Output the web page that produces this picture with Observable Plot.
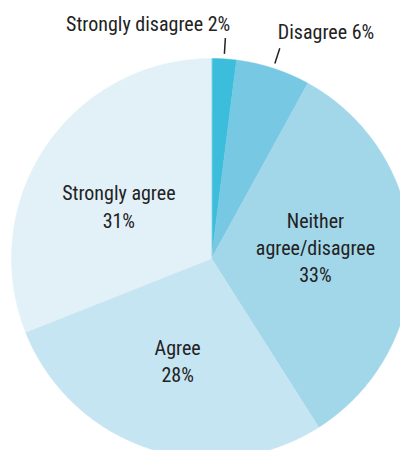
<!DOCTYPE html>
<html><head><meta charset="utf-8">
<script src="https://cdn.jsdelivr.net/npm/d3@7"></script>
<script src="https://cdn.jsdelivr.net/npm/@observablehq/plot@0.6"></script>
<style>body{margin:0;background:#fff;overflow:hidden}</style>
</head><body><div id="chart"></div>
<script>
// ---- data ----
const categories = ["Strongly disagree", "Disagree", "Neither agree/disagree", "Agree", "Strongly agree"];
const values = [2, 6, 33, 28, 31];
const labelTexts = ["Strongly disagree 2%", "Disagree 6%", "Neither\nagree/disagree\n33%", "Agree\n28%", "Strongly agree\n31%"];
const colors = ["#3bbddb", "#77c8e3", "#a2d7ea", "#c6e5f2", "#e2f1f8"];

// ---- layout ----
const W = 400, H = 450, cx = 211, cy = 258, R = 200;
const outside = [true, true, false, false, false];
const labelRadius = [1.17, 1.17, 0.51, 0.548, 0.53];
const labelNudge = [[4, 0], [-6, -3], [2, -9], [0, -3], [-5, 6.5]]; // px
const FONT = "'Liberation Sans Narrow', 'Arial Narrow', 'Roboto Condensed', Roboto, sans-serif";

const arcs = d3.pie().sort(null).value(d => d)(values);

const slicePts = [];
arcs.forEach((a, i) => {
  const n = Math.max(4, Math.ceil((a.endAngle - a.startAngle) / 0.005));
  slicePts.push({cat: categories[i], x: 0, y: 0});
  for (let k = 0; k <= n; k++) {
    const t = a.startAngle + (a.endAngle - a.startAngle) * k / n;
    slicePts.push({cat: categories[i], x: Math.sin(t), y: Math.cos(t)});
  }
});

const labels = arcs.map((a, i) => {
  const m = (a.startAngle + a.endAngle) / 2, r = labelRadius[i];
  return {
    text: labelTexts[i],
    x: r * Math.sin(m) + labelNudge[i][0] / R,
    y: r * Math.cos(m) - labelNudge[i][1] / R,
    anchor: i === 0 ? "end" : i === 1 ? "start" : "middle",
    outside: outside[i]
  };
});

const leaders = arcs.filter((a, i) => outside[i]).map(a => {
  const m = (a.startAngle + a.endAngle) / 2;
  return {x1: 1.025 * Math.sin(m), y1: 1.025 * Math.cos(m), x2: 1.105 * Math.sin(m), y2: 1.105 * Math.cos(m)};
});

const chart = Plot.plot({
  width: W, height: H,
  margin: 0,
  x: {domain: [-cx / R, (W - cx) / R], range: [0, W], axis: null},
  y: {domain: [-(H - cy) / R, cy / R], range: [H, 0], axis: null},
  color: {domain: categories, range: colors},
  marks: [
    Plot.line(slicePts, {x: "x", y: "y", z: "cat", fill: "cat", stroke: "cat", strokeWidth: 0.5, curve: "linear-closed"}),
    Plot.link(leaders, {x1: "x1", y1: "y1", x2: "x2", y2: "y2", stroke: "#222", strokeWidth: 1.5}),
    Plot.text(labels.filter(d => d.anchor === "end"), {x: "x", y: "y", text: "text", textAnchor: "end", fontSize: 20, fontFamily: FONT, fill: "#222", lineAnchor: "middle"}),
    Plot.text(labels.filter(d => d.anchor === "start"), {x: "x", y: "y", text: "text", textAnchor: "start", fontSize: 20, fontFamily: FONT, fill: "#222", lineAnchor: "middle"}),
    Plot.text(labels.filter(d => d.anchor === "middle"), {x: "x", y: "y", text: "text", textAnchor: "middle", fontSize: 20, fontFamily: FONT, fill: "#222", lineAnchor: "middle", lineHeight: 1.37})
  ]
});
document.getElementById("chart").append(chart);
</script>
</body></html>
